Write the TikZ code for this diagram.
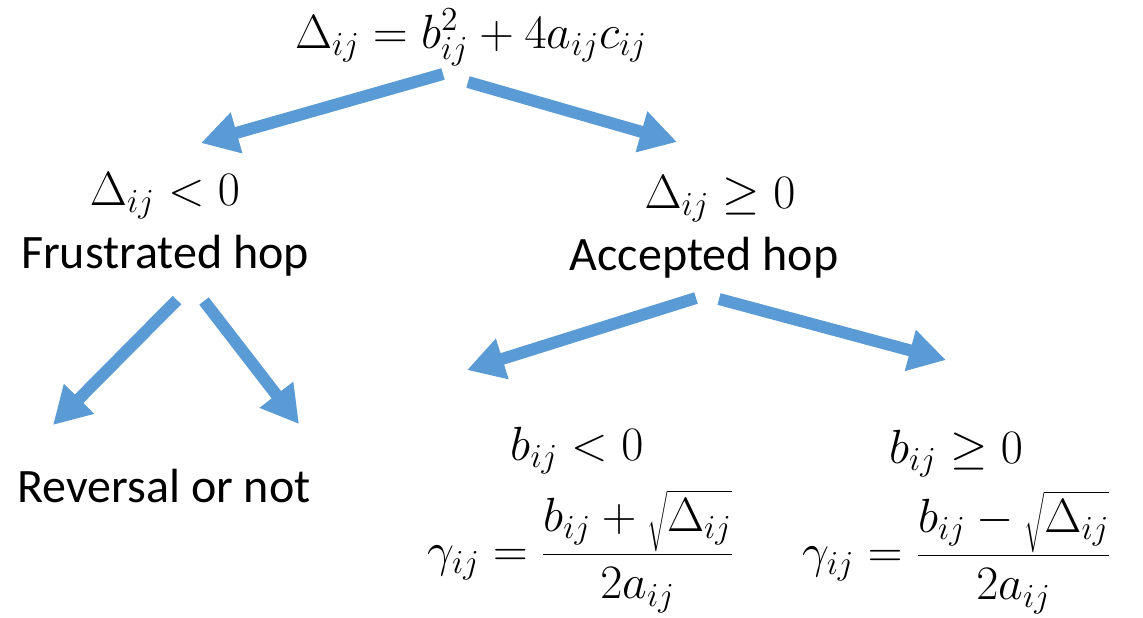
\RequirePackage{fix-cm}
\documentclass[tikz,border=0pt]{standalone}
\usepackage{fontspec}
\setmainfont{Carlito}
\usetikzlibrary{arrows.meta}
\definecolor{hopblue}{HTML}{5B9BD5}

\begin{document}
\begin{tikzpicture}[x=0.5pt,y=-0.5pt,font=\fontsize{24}{29}\selectfont,
 >={Triangle[width=20pt,length=18.5pt]},
 hop/.style={->,draw=hopblue,line width=6pt},
 lab/.style={anchor=base,inner sep=0pt}]
\useasboundingbox (0,0) rectangle (1143,617);
% texts
\node[lab] (disc) at (471,48) {$\Delta_{ij}=b_{ij}^2+4a_{ij}c_{ij}$};
\node[lab] (neg) at (165,205) {$\Delta_{ij}<0$};
\node[lab] (frus) at (165,268) {Frustrated hop};
\node[lab] (pos) at (720,208) {$\Delta_{ij}\geq0$};
\node[lab] (acc) at (704,270) {Accepted hop};
\node[lab] (rev) at (164,502) {Reversal or not};
\node[lab] (bneg) at (577,460) {$b_{ij}<0$};
\node[lab] (gneg) at (581,566) {$\displaystyle\gamma_{ij}=\frac{b_{ij}+\sqrt{\Delta_{ij}}}{2a_{ij}}$};
\node[lab] (bpos) at (956,463) {$b_{ij}\geq0$};
\node[lab] (gpos) at (957,567) {$\displaystyle\gamma_{ij}=\frac{b_{ij}-\sqrt{\Delta_{ij}}}{2a_{ij}}$};
% arrow ends
\coordinate (d1) at (443,74);
\coordinate (d2) at (468,82);
\coordinate (n1) at (201,143);
\coordinate (p1) at (677,142);
\coordinate (f1) at (177,300);
\coordinate (f2) at (204,301);
\coordinate (r1) at (53,425);
\coordinate (r2) at (299,424);
\coordinate (a1) at (696,298);
\coordinate (a2) at (719,299);
\coordinate (b1) at (467,370);
\coordinate (b2) at (946,360);
\draw[hop] (d1) -- (n1);
\draw[hop] (d2) -- (p1);
\draw[hop] (f1) -- (r1);
\draw[hop] (f2) -- (r2);
\draw[hop] (a1) -- (b1);
\draw[hop] (a2) -- (b2);
\end{tikzpicture}
\end{document}
